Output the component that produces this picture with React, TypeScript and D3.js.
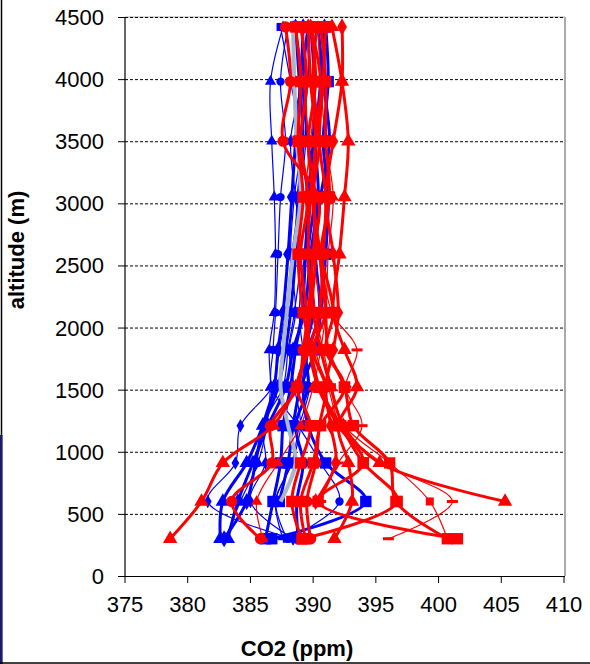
import React from "react";
import * as d3 from "d3";

// altitude levels (m) where the profiles were sampled
const levels = [300, 600, 910, 1210, 1520, 1820, 2120, 2590, 3050, 3500, 3980, 4420];

// CO2 (ppm) per level, blue profiles
const blueA = [382.6, 382.8, 384.7, 386.0, 387.2, 387.8, 388.2, 388.6, 388.8, 389.2, 388.9, 388.6];
const blueB = [383.0, 384.2, 385.6, 386.3, 386.6, 386.5, 386.9, 387.0, 386.9, 386.7, 386.6, 387.6];
const blueC = [388.4, 381.6, 383.8, 384.2, 386.7, 387.3, 387.8, 388.3, 388.9, 389.4, 389.1, 388.4];
const blueD = [382.9, 384.7, 385.4, 386.0, 386.9, 387.2, 387.6, 388.0, 388.3, 388.6, 389.0, 389.2];
const blueE = [388.0, 392.1, 390.6, 388.8, 386.7, 386.8, 387.0, 387.2, 387.4, 387.8, 387.4, 388.0];
const blueF = [386.2, 386.8, 387.4, 387.6, 388.2, 388.6, 389.1, 389.4, 389.6, 390.0, 390.1, 389.8];
const blueG = [386.7, 394.2, 391.0, 389.6, 389.2, 389.6, 390.5, 390.2, 390.6, 391.3, 390.8, 390.4];
const blueH = [387.6, 387.0, 388.3, 388.9, 389.7, 389.2, 388.9, 389.3, 389.5, 389.0, 389.6, 389.5];
const blueI = [388.8, 388.7, 389.2, 388.6, 389.6, 389.4, 390.0, 389.6, 390.1, 389.6, 389.2, 389.6];
const blueJ = [387.9, 387.0, 388.3, 389.0, 388.5, 388.1, 388.6, 388.2, 388.5, 389.0, 388.2, 387.4];
const blueK = [388.4, 385.0, 386.2, 386.0, 387.6, 388.0, 388.5, 389.0, 388.6, 388.2, 389.0, 388.6];
const blueL = [383.2, 384.0, 385.2, 386.4, 387.8, 388.4, 389.3, 389.8, 390.4, 390.2, 390.6, 390.9];
const blueM = [null, 387.3, 388.0, 388.4, 389.0, 390.2, 390.6, 391.0, 391.2, 390.8, 391.2, 391.0];

// CO2 (ppm) per level, red profiles
const redA = [378.6, 381.1, 382.8, 386.8, 388.6, 389.4, 389.8, 390.2, 390.0, 389.6, 390.2, 389.8];
const redB = [385.8, 383.5, 386.7, 386.6, 388.8, 389.2, 389.6, 390.0, 390.4, 387.6, 388.2, 387.8];
const redC = [386.0, 385.5, 387.2, 389.0, 390.0, 390.6, 391.0, 391.2, 391.6, 391.0, 390.6, 390.4];
const redD = [389.1, 388.3, 389.0, 389.8, 388.7, 389.6, 389.5, 389.0, 389.6, 389.0, 389.5, 389.0];
const redE = [389.8, 389.5, 390.2, 390.5, 391.0, 390.0, 391.0, 390.5, 390.0, 390.5, 390.0, 390.3];
const redF = [391.7, 393.1, 392.8, 392.0, 393.5, 392.5, 391.6, 392.1, 392.5, 392.8, 392.3, 391.5];
const redG = [396.0, 401.1, 395.5, 392.2, 391.2, 390.2, 390.6, 390.0, 390.2, 389.6, 389.4, 389.2];
const redH = [400.7, 396.6, 396.1, 393.2, 392.5, 391.2, 391.0, 390.6, 391.3, 391.0, 391.0, 390.6];
const redI = [401.5, 390.4, 394.0, 392.0, 390.4, 389.8, 390.5, 390.8, 391.0, 390.5, 390.8, 391.0];
const redJ = [400.7, 399.3, 396.1, 392.5, 391.5, 390.8, 390.2, 389.8, 389.4, 389.8, 390.2, 390.0];
const redK = [null, 405.3, 395.3, 392.4, 391.4, 390.6, 390.0, 389.6, 389.8, 390.2, 389.8, 389.6];
const redL = [null, 390.2, 391.8, 391.4, 391.0, 391.6, 392.0, 391.6, 391.0, 391.6, 392.3, 392.3];
const redM = [null, 390.6, 392.0, 393.9, 392.6, 393.5, 391.5, 390.6, 390.0, 389.6, 389.2, 388.6];
const redN = [389.4, 389.0, 390.0, 390.6, 392.5, 391.0, 391.6, 390.6, 390.0, 390.2, 390.6, 389.8];
const redO = [389.2, 396.7, 394.0, 392.2, 390.5, 389.8, 389.2, 388.8, 389.2, 388.8, 389.0, 388.6];

// mean profile (grey)
const meanProfile = [null, 387.4, 388.6, 388.0, 387.4, 387.6, 387.9, 388.4, 389.0, 388.7, 388.5, 388.4];

const xTicks = [375, 380, 385, 390, 395, 400, 405, 410];
const yTicks = [0, 500, 1000, 1500, 2000, 2500, 3000, 3500, 4000, 4500];

const blueSeries = [blueA, blueB, blueC, blueD, blueE, blueF, blueG, blueH, blueI, blueJ, blueK, blueL, blueM];
const redSeries = [redA, redB, redC, redD, redE, redF, redG, redH, redI, redJ, redK, redL, redM, redN, redO];

// marker shape + line weight for each profile
const blueStyle = [
  ["triangle", true], ["triangle", false], ["diamond", false], ["diamond", true],
  ["circle", false], ["square", true], ["square", true], ["dash", false],
  ["circle", true], ["square", false], ["diamond", false], ["triangle", true], ["square", true],
];
const redStyle = [
  ["triangle", true], ["circle", true], ["triangle", false], ["square", true],
  ["circle", true], ["triangle", true], ["dash", false], ["square", true],
  ["square", true], ["square", false], ["triangle", true], ["diamond", true],
  ["dash", false], ["square", true], ["square", true],
];

const FONT = "'Liberation Sans', Arial, sans-serif";

const x = d3.scaleLinear().domain([375, 410]).range([125, 564]);
const y = d3.scaleLinear().domain([0, 4500]).range([576, 17]);

const line = d3
  .line<[number, number]>()
  .x((d) => x(d[0]))
  .y((d) => y(d[1]))
  .curve(d3.curveCatmullRom.alpha(0.5));

const symbolOf: Record<string, d3.SymbolType> = {
  square: d3.symbolSquare,
  triangle: d3.symbolTriangle,
  diamond: d3.symbolDiamond,
  circle: d3.symbolCircle,
};

function Marker({ kind, big, cx, cy, color }: any) {
  if (kind === "dash") {
    const w = big ? 12 : 11;
    return <rect x={cx - w / 2} y={cy - 1.5} width={w} height={3} fill={color} />;
  }
  const sizes: Record<string, number> = big
    ? { square: 130, triangle: 90, diamond: 85, circle: 100 }
    : { square: 64, triangle: 55, diamond: 52, circle: 55 };
  const p = d3.symbol(symbolOf[kind], sizes[kind])() as string;
  return <path d={p} transform={`translate(${cx},${cy})`} fill={color} />;
}

function Profile({ values, style, color }: any) {
  const pts: [number, number][] = [];
  values.forEach((v: number | null, i: number) => {
    if (v != null) pts.push([v, levels[i]]);
  });
  const [kind, big] = style;
  return (
    <g>
      <path d={line(pts) as string} fill="none" stroke={color} strokeWidth={big ? 3 : 1.2} />
      {pts.map((d, i) => (
        <Marker key={i} kind={kind} big={big} cx={x(d[0])} cy={y(d[1])} color={color} />
      ))}
    </g>
  );
}

export default function App() {
  const meanPts: [number, number][] = [];
  meanProfile.forEach((v, i) => {
    if (v != null) meanPts.push([v, levels[i]]);
  });

  return (
    <svg
      width={590}
      height={664}
      style={{ position: "absolute", left: 0, top: 0, background: "#fff" }}
      fontFamily={FONT}
    >
      {/* outer frame bits */}
      <line x1={1.5} x2={1.5} y1={0} y2={664} stroke="#000" strokeWidth={1.5} />
      <rect x={0} y={435} width={2.5} height={229} fill="#1a1a6e" />
      <line x1={0} x2={590} y1={663} y2={663} stroke="#000" strokeWidth={1.5} />

      {/* plot frame */}
      <line x1={125} x2={565} y1={y(4500)} y2={y(4500)} stroke="#aaa" strokeWidth={1} />
      <line x1={565} x2={565} y1={y(4500)} y2={y(0)} stroke="#aaa" strokeWidth={2} />

      {/* gridlines */}
      {yTicks.slice(1).map((t) => (
        <line
          key={t}
          x1={125}
          x2={564}
          y1={y(t) + 0.5}
          y2={y(t) + 0.5}
          stroke="#000"
          strokeWidth={1}
          strokeDasharray="3,2"
        />
      ))}

      {/* profiles */}
      {blueSeries.map((s, i) => (
        <Profile key={"b" + i} values={s} style={blueStyle[i]} color="#0000ff" />
      ))}
      <path d={line(meanPts) as string} fill="none" stroke="#a9b5c9" strokeWidth={4} />
      {redSeries.map((s, i) => (
        <Profile key={"r" + i} values={s} style={redStyle[i]} color="#ff0000" />
      ))}

      {/* axes */}
      <line x1={125} x2={125} y1={y(4500)} y2={y(0)} stroke="#000" strokeWidth={1.2} />
      <line x1={118} x2={565} y1={y(0) + 0.5} y2={y(0) + 0.5} stroke="#000" strokeWidth={1.2} />
      {yTicks.map((t) => (
        <g key={t}>
          <line x1={118} x2={125} y1={y(t) + 0.5} y2={y(t) + 0.5} stroke="#000" strokeWidth={1} />
          <text x={104} y={y(t) + 8} textAnchor="end" fontSize={22} fill="#000">
            {t}
          </text>
        </g>
      ))}
      {xTicks.map((t) => (
        <g key={t}>
          <line x1={x(t)} x2={x(t)} y1={y(0)} y2={y(0) + 7} stroke="#000" strokeWidth={1} />
          <text x={x(t)} y={y(0) + 36} textAnchor="middle" fontSize={22} fill="#000">
            {t}
          </text>
        </g>
      ))}

      <text x={297} y={656} textAnchor="middle" fontSize={22} fontWeight="bold" fill="#000">
        CO2 (ppm)
      </text>
      <text
        transform={`translate(24,250) rotate(-90)`}
        textAnchor="middle"
        fontSize={22}
        fontWeight="bold"
        fill="#000"
      >
        altitude (m)
      </text>
    </svg>
  );
}
